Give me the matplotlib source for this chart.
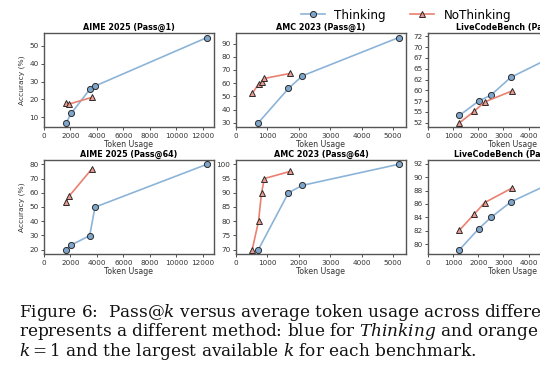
import matplotlib
matplotlib.use("Agg")
import matplotlib.pyplot as plt
from matplotlib.ticker import MultipleLocator, FormatStrFormatter
from matplotlib.lines import Line2D

# AIME 2025
aime_think_x = [1675, 2050, 3450, 3850, 12300]
aime_nothink_x = [1650, 1875, 3625]
aime_p1_think = [7.0, 12.2, 25.6, 27.5, 54.6]
aime_p1_nothink = [18.2, 17.4, 21.2]
aime_p64_think = [20.0, 23.3, 29.9, 49.9, 80.0]
aime_p64_nothink = [53.4, 57.4, 76.9]

# AMC 2023
amc_think_x = [712, 1670, 2116, 5180]
amc_nothink_x = [515, 718, 813, 905, 1724]
amc_p1_think = [30.0, 56.0, 65.6, 94.6]
amc_p1_nothink = [52.2, 59.3, 60.6, 63.6, 67.4]
amc_p64_think = [70.0, 90.0, 92.6, 100.0]
amc_p64_nothink = [70.0, 80.0, 90.0, 95.0, 97.5]

# LiveCodeBench
lcb_think_x = [1252, 2012, 2507, 3292, 6500]
lcb_nothink_x = [1252, 1828, 2252, 3360]
lcb_p1_think = [54.2, 57.5, 58.9, 63.0, 72.2]
lcb_p1_nothink = [52.5, 55.1, 57.3, 59.9]
lcb_p64_think = [79.2, 82.3, 84.0, 86.3, 91.9]
lcb_p64_nothink = [82.1, 84.45, 86.2, 88.4]

titles = ["AIME 2025 (Pass@1)", "AMC 2023 (Pass@1)", "LiveCodeBench (Pass@1)",
          "AIME 2025 (Pass@64)", "AMC 2023 (Pass@64)", "LiveCodeBench (Pass@64)"]

caption_lines = [
    r"Figure 6:  Pass@$k$ versus average token usage across differe",
    r"represents a different method: blue for $\mathit{Thinking}$ and orange",
    r"$k = 1$ and the largest available $k$ for each benchmark.",
]

THINK_LINE = "#8cb4d8"
THINK_FACE = "#7ea6cc"
NO_LINE = "#ea8070"
NO_FACE = "#ec9a90"
EDGE = "#2b2b2b"

plt.rcParams["mathtext.fontset"] = "dejavuserif"

fig = plt.figure(figsize=(5.4, 3.72), dpi=100)
W, H = 540.0, 372.0

lefts = [44, 236, 428]
rows = [(33.3, 127.0), (160.0, 254.0)]
panel_w = 170

panels = [
    (aime_think_x, aime_p1_think, aime_nothink_x, aime_p1_nothink),
    (amc_think_x, amc_p1_think, amc_nothink_x, amc_p1_nothink),
    (lcb_think_x, lcb_p1_think, lcb_nothink_x, lcb_p1_nothink),
    (aime_think_x, aime_p64_think, aime_nothink_x, aime_p64_nothink),
    (amc_think_x, amc_p64_think, amc_nothink_x, amc_p64_nothink),
    (lcb_think_x, lcb_p64_think, lcb_nothink_x, lcb_p64_nothink),
]
x_steps = [2000, 1000, 1000, 2000, 1000, 1000]
y_steps = [10, 10, 2.5, 10, 5, 2]

for i, (tx, ty, nx, ny) in enumerate(panels):
    r, c = divmod(i, 3)
    top, bot = rows[r]
    ax = fig.add_axes([lefts[c] / W, 1 - bot / H, panel_w / W, (bot - top) / H])
    ax.plot(tx, ty, "-o", color=THINK_LINE, lw=1.2, ms=4.4,
            mfc=THINK_FACE, mec=EDGE, mew=0.7, zorder=3)
    ax.plot(nx, ny, "-^", color=NO_LINE, lw=1.2, ms=4.4,
            mfc=NO_FACE, mec=EDGE, mew=0.7, zorder=3)
    ax.set_xlim(left=0)
    ax.xaxis.set_major_locator(MultipleLocator(x_steps[i]))
    ax.yaxis.set_major_locator(MultipleLocator(y_steps[i]))
    ax.yaxis.set_major_formatter(FormatStrFormatter("%d"))
    ax.set_title(titles[i], fontsize=5.8, fontweight="bold", pad=2.5)
    ax.set_xlabel("Token Usage", fontsize=5.6, labelpad=1, color="#333333")
    if c == 0:
        ax.set_ylabel("Accuracy (%)", fontsize=5.4, labelpad=3, color="#333333")
    ax.tick_params(labelsize=5.2, length=2.5, width=0.6, pad=1.5,
                   colors="#333333")
    for s in ax.spines.values():
        s.set_color("#555555")
        s.set_linewidth(1.0)

handles = [
    Line2D([], [], color=THINK_LINE, lw=1.2, marker="o", ms=4.4,
           mfc=THINK_FACE, mec=EDGE, mew=0.7, label="Thinking"),
    Line2D([], [], color=NO_LINE, lw=1.2, marker="^", ms=4.4,
           mfc=NO_FACE, mec=EDGE, mew=0.7, label="NoThinking"),
]
fig.legend(handles=handles, loc="center", ncol=2, frameon=False,
           fontsize=8.6, bbox_to_anchor=(406 / W, 1 - 15 / H),
           handlelength=2.0, handletextpad=0.8, columnspacing=2.0)

# caption under the panels
fig.text(19 / W, 1 - 302 / H, "\n".join(caption_lines), fontsize=12.2,
         family="DejaVu Serif", va="top", ha="left", color="#111111",
         linespacing=0.9)

fig.savefig("out.png", dpi=100)
